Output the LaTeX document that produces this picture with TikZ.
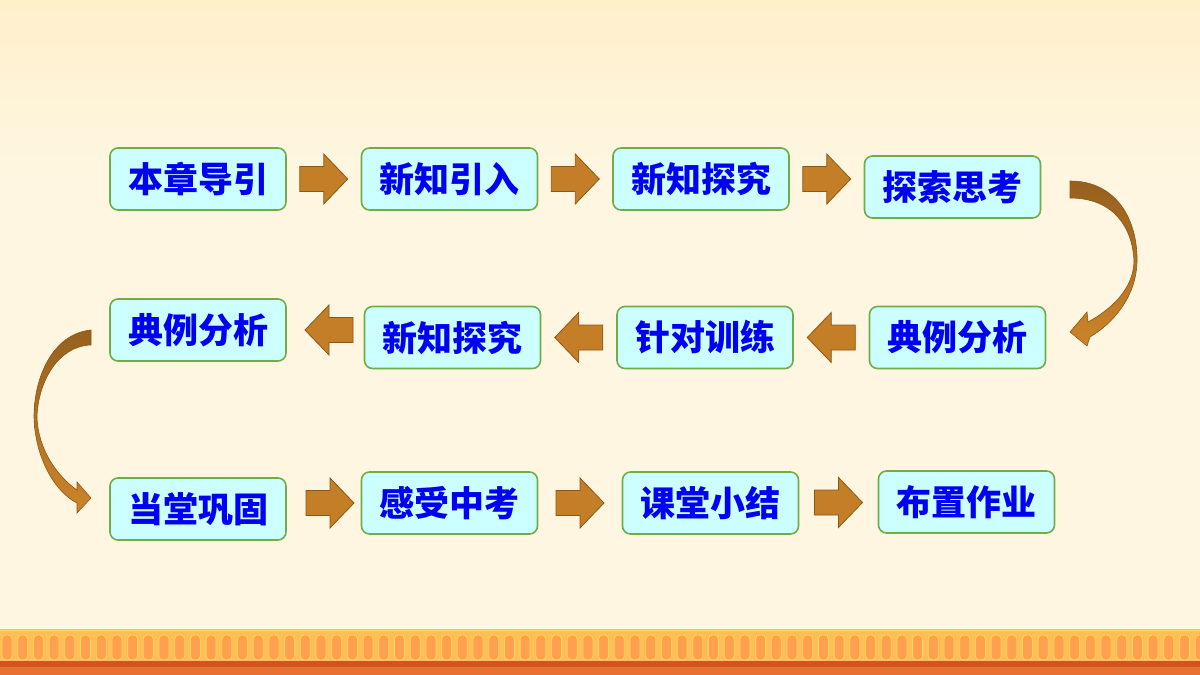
\documentclass[tikz,border=0pt]{standalone}
\usepackage{fontspec}
\usepackage{tikz}
\usetikzlibrary{calc}
\newfontfamily\cjk{Noto Sans CJK SC}

\definecolor{bgtop}{RGB}{255,240,204}
\definecolor{bgmid}{RGB}{254,246,224}
\definecolor{boxfill}{RGB}{204,255,255}
\definecolor{boxline}{RGB}{112,173,71}
\definecolor{txtblue}{RGB}{0,0,245}
\definecolor{arrfill}{RGB}{196,126,40}
\definecolor{arrline}{RGB}{140,88,20}
\definecolor{curvetop}{RGB}{150,96,30}
\definecolor{curvebot}{RGB}{204,132,42}
\definecolor{railtop}{RGB}{255,190,90}
\definecolor{railpost}{RGB}{255,160,80}
\definecolor{railrim}{RGB}{255,215,80}
\definecolor{raildark}{RGB}{210,84,30}
\definecolor{railbase}{RGB}{232,112,50}

\begin{document}
\begin{tikzpicture}[x=1pt,y=-1pt,
        step box/.style={
          draw=boxline, line width=1.6pt, fill=boxfill, rounded corners=8pt,
          minimum width=176pt, minimum height=62pt, inner sep=0pt,
          text=txtblue, font=\cjk\bfseries\fontsize{35}{38}\selectfont
        },
        flow arrow/.style={fill=arrfill, draw=arrline, line width=.8pt},
        bend arrow/.style={top color=curvetop, bottom color=curvebot, draw=arrline, line width=.6pt},
        fwd/.pic={
          \path[flow arrow] (-24,-12.5) -- (0,-12.5) -- (0,-25) -- (24,0)
            -- (0,25) -- (0,12.5) -- (-24,12.5) -- cycle;
        }
      ]
      % background
      \shade[top color=bgtop, bottom color=bgmid, middle color=bgmid] (0,0) rectangle (1200,340);
      \fill[bgmid] (0,339) rectangle (1200,675);
      \useasboundingbox (0,0) rectangle (1200,675);

      % first row
      \node [step box] (a1) at (198,179) {本章导引};
      \node [step box] (a2) at (449.5,179) {新知引入};
      \node [step box] (a3) at (701,179) {新知探究};
      \node [step box] (a4) at (952.5,187) {探索思考};
      % second row
      \node [step box] (b1) at (198,330) {典例分析};
      \node [step box] (b2) at (452.5,337.5) {新知探究};
      \node [step box] (b3) at (705,337.5) {针对训练};
      \node [step box] (b4) at (957.5,337.5) {典例分析};
      % third row
      \node [step box] (c1) at (198,509) {当堂巩固};
      \node [step box] (c2) at (449.5,503) {感受中考};
      \node [step box] (c3) at (710.5,503) {课堂小结};
      \node [step box] (c4) at (966.5,502) {布置作业};

      % straight arrows
      \pic at ($(a1.east)!.5!(a2.west)$) {fwd};
      \pic at ($(a2.east)!.5!(a3.west)$) {fwd};
      \pic at ($(a3.east)!.5!(a4.west |- a3.east)$) {fwd};
      \pic [rotate=180] at (329,330) {fwd};
      \pic [rotate=180] at ($(b3.west)!.5!(b2.east)$) {fwd};
      \pic [rotate=180] at ($(b4.west)!.5!(b3.east)$) {fwd};
      \pic at (330,503) {fwd};
      \pic at ($(c2.east)!.5!(c3.west)$) {fwd};
      \pic at ($(c3.east)!.5!(c4.west)$) {fwd};

      % turning arrows
      \path [bend arrow] (1070,181) .. controls (1118,181) and (1138,222) .. (1137,262)
        .. controls (1136,298) and (1112,324) .. (1090,337) -- (1087,346) -- (1070,332)
        -- (1087,312) -- (1088,322) .. controls (1110,310) and (1133,290) .. (1134,262)
        .. controls (1133,228) and (1114,198) .. (1070,198) -- cycle;
      \path [bend arrow] (91,330) .. controls (52,334) and (34,378) .. (34,417)
        .. controls (35,458) and (55,492) .. (77,503) -- (77,513) -- (91,498)
        -- (77,482) -- (77,490) .. controls (58,477) and (38,450) .. (37,417)
        .. controls (38,382) and (58,346) .. (91,345) -- cycle;

      % railing at the foot
      \fill[railtop] (0,629) rectangle (1200,661);
      \draw[railrim, line width=1pt] (0,630) -- (1200,630);
      \foreach \k in {0,...,76} {
        \fill[railpost, draw=railrim, line width=.8pt, rounded corners=4pt]
          ({2+15.7*\k},635) rectangle ({12+15.7*\k},660);
      }
      \fill[raildark] (0,661) rectangle (1200,667);
      \fill[railbase] (0,667) rectangle (1200,675);
    \end{tikzpicture}
\end{document}
